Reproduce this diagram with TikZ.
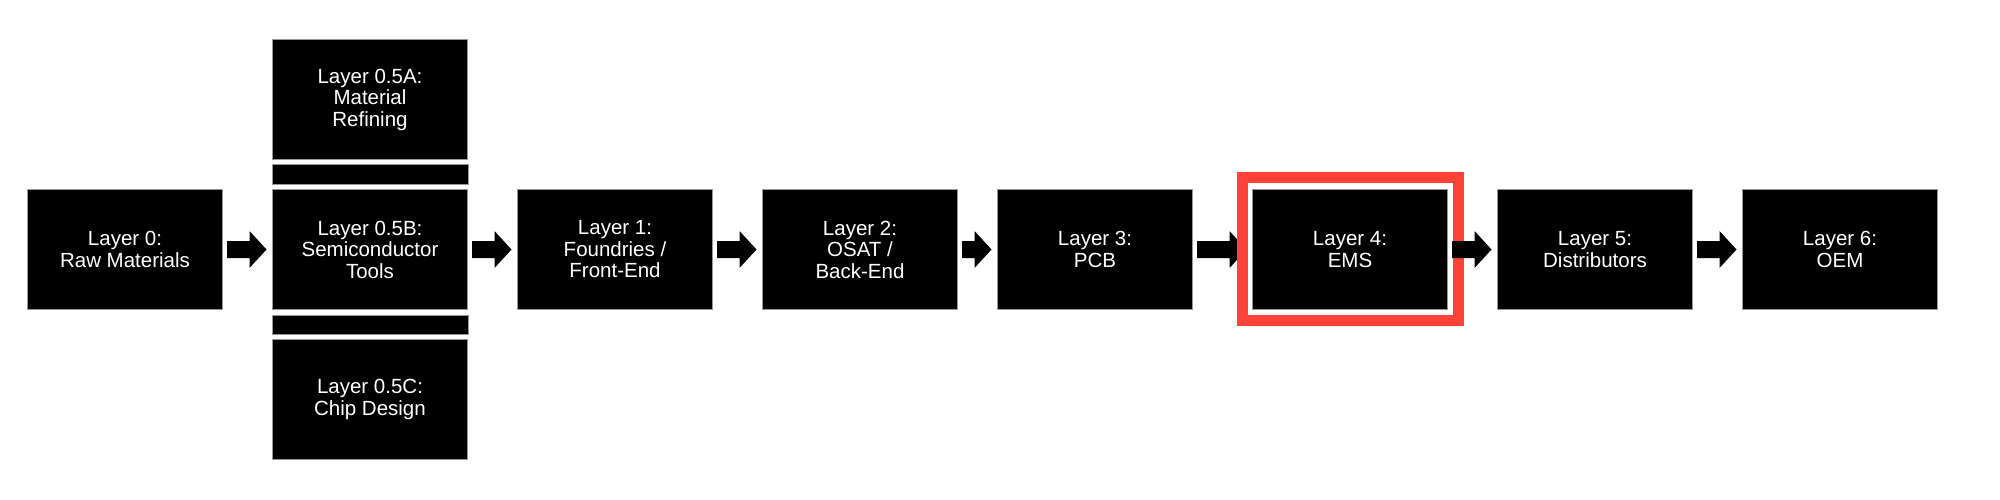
\documentclass[tikz,border=0pt]{standalone}
\usepackage{fontspec}
\setmainfont{Liberation Sans}
\usetikzlibrary{calc}
\definecolor{hlred}{RGB}{255,66,56}
\definecolor{edgegray}{RGB}{150,150,150}
\tikzset{
  layerbox/.style={rectangle, fill=black, draw=edgegray, line width=1pt,
    minimum width=195pt, minimum height=120pt, inner sep=0pt,
    text=white, align=center, font=\fontsize{20.5pt}{21.5pt}\selectfont},
  linkband/.style={fill=black, draw=edgegray, line width=1pt},
  arrowfill/.style={fill=black},
  highlight/.style={draw=hlred, line width=11pt}
}
\newcommand\blockarr[2]{%
  \fill[arrowfill] let \p1=($(#1.east)+(4pt,0)$), \p2=($(#2.west)+(-5.5pt,0)$) in
    (\x1,{\y1+8.5pt}) -- ({\x2-17pt},{\y1+8.5pt}) -- ({\x2-17pt},{\y1+18.5pt})
    -- (\x2,\y1) -- ({\x2-17pt},{\y1-18.5pt}) -- ({\x2-17pt},{\y1-8.5pt})
    -- (\x1,{\y1-8.5pt}) -- cycle;}
\begin{document}
\begin{tikzpicture}[x=1pt,y=-1pt]
\useasboundingbox (0,0) rectangle (2000,500);
\node[layerbox] (L0)  at (125,249.5)  {Layer 0:\\Raw Materials};
\node[layerbox] (L5A) at (370,99.5)   {Layer 0.5A:\\Material\\Refining};
\node[layerbox] (L5B) at (370,249.5)  {Layer 0.5B:\\Semiconductor\\Tools};
\node[layerbox] (L5C) at (370,399.5)  {Layer 0.5C:\\Chip Design};
\node[layerbox] (L1)  at (615,249.5)  {Layer 1:\\Foundries /\\Front-End};
\node[layerbox] (L2)  at (860,249.5)  {Layer 2:\\OSAT /\\Back-End};
\node[layerbox] (L3)  at (1095,249.5) {Layer 3:\\PCB};
\node[layerbox] (L4)  at (1350,249.5) {Layer 4:\\EMS};
\node[layerbox] (L5)  at (1595,249.5) {Layer 5:\\Distributors};
\node[layerbox] (L6)  at (1840,249.5) {Layer 6:\\OEM};
% links between the 0.5 layers
\path[linkband] ($(L5A.south west)+(0,-5pt)$) rectangle ($(L5B.north east)+(0,5pt)$);
\path[linkband] ($(L5B.south west)+(0,-5pt)$) rectangle ($(L5C.north east)+(0,5pt)$);
% flow arrows
\blockarr{L0}{L5B}
\blockarr{L5B}{L1}
\blockarr{L1}{L2}
\blockarr{L2}{L3}
\blockarr{L3}{L4}
% highlight around Layer 4
\draw[highlight] ($(L4.north west)+(-10pt,12pt)$) rectangle ($(L4.south east)+(10.5pt,-10pt)$);
\blockarr{L4}{L5}
\blockarr{L5}{L6}
\end{tikzpicture}
\end{document}
